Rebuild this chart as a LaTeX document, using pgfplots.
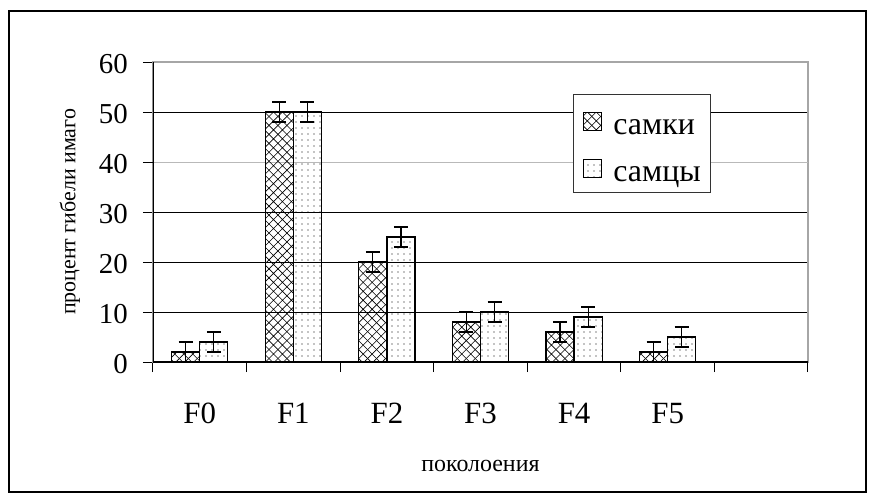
\documentclass[border=0pt]{standalone}
\usepackage{fontspec}
\setmainfont{Liberation Serif}
\usepackage{pgfplots}
\pgfplotsset{compat=1.18}
\usetikzlibrary{patterns}
\pgfdeclarepatternformonly{mycross}{\pgfpoint{-1pt}{-1pt}}{\pgfpoint{10pt}{10pt}}{\pgfpoint{9pt}{9pt}}{%
  \pgfsetlinewidth{0.6pt}%
  \pgfpathmoveto{\pgfpoint{0pt}{0pt}}\pgfpathlineto{\pgfpoint{9pt}{9pt}}%
  \pgfpathmoveto{\pgfpoint{0pt}{9pt}}\pgfpathlineto{\pgfpoint{9pt}{0pt}}%
  \pgfusepath{stroke}}
\pgfdeclarepatternformonly{mydots}{\pgfpointorigin}{\pgfpoint{6pt}{6pt}}{\pgfpoint{6pt}{6pt}}{%
  \pgfpathcircle{\pgfpoint{3pt}{3pt}}{0.6pt}\pgfusepath{fill}}
\begin{document}
\begin{tikzpicture}
\useasboundingbox (-153bp,-140bp) rectangle (722bp,362bp);
\draw[line width=1.3bp] (-144bp,-130bp) rectangle (713bp,351bp);
\begin{axis}[
  at={(0,0)}, anchor=south west,
  scale only axis, width=655bp, height=300bp,
  xmin=-0.5, xmax=6.5, ymin=0, ymax=60,
  ybar=0pt, bar width=0.3,
  xtick={-0.5,0.5,...,6.5},
  xticklabels={F0,F1,F2,F3,F4,F5,{}},
  ytick={0,10,20,30,50,60},
  extra y ticks={40},
  extra y tick style={major grid style={gray!55, line width=0.9bp}},
  ymajorgrids,
  major grid style={black, line width=0.9bp},
  axis line style={gray!70, line width=1.2bp},
  tick align=outside, xtick pos=bottom, ytick pos=left,
  major tick length=10bp,
  tick style={black, line width=1bp},
  /pgf/number format/assume math mode=true,
  yticklabel style={font=\fontsize{29}{32}\selectfont, inner sep=0pt, anchor=east, xshift=-15bp, yshift=-2bp},
  xticklabel style={font=\fontsize{31}{34}\selectfont, inner sep=0pt, anchor=base, xshift=46.8bp, yshift=-51bp},
  xlabel={поколоения},
  ylabel={процент гибели имаго},
  xlabel style={font=\fontsize{24}{27}\selectfont, at={(axis description cs:0.5,-0.347)}, anchor=center},
  ylabel style={font=\fontsize{22}{25}\selectfont, at={(axis description cs:-0.127,0.5)}, anchor=center},
  legend style={at={(axis description cs:0.6412,0.8933)}, anchor=north west, draw=black!80, line width=0.9bp,
    font=\fontsize{32}{35}\selectfont, row sep=12bp, inner xsep=10bp, inner ysep=8bp, fill=white,
    nodes={inner sep=0pt},
    /tikz/every odd column/.append style={column sep=11bp}},
  legend cell align=left,
  legend image code/.code={\path[draw=none, fill=none] (0bp,-9.5bp) -- (0bp,25.5bp);
    \draw[#1, line width=1bp] (0bp,-3bp) rectangle (18bp,15bp);},
  error bars/y dir=both, error bars/y explicit,
  error bars/error bar style={black, line width=1.2bp},
  error bars/error mark options={black, rotate=90, mark size=7bp, line width=1.2bp},
]
\addplot[draw=black, line width=1.2bp, pattern=mycross, pattern color=black]
  coordinates {(0,2) +- (0,2) (1,50) +- (0,2) (2,20) +- (0,2) (3,8) +- (0,2) (4,6) +- (0,2) (5,2) +- (0,2)};
\addplot[draw=black, line width=1.2bp, pattern=mydots, pattern color=black]
  coordinates {(0,4) +- (0,2) (1,50) +- (0,2) (2,25) +- (0,2) (3,10) +- (0,2) (4,9) +- (0,2) (5,5) +- (0,2)};
\legend{самки, самцы}
\draw[black, line width=1.2bp] (rel axis cs:0,1) -- (rel axis cs:0,0) -- (rel axis cs:1,0);
\end{axis}
\end{tikzpicture}
\end{document}
